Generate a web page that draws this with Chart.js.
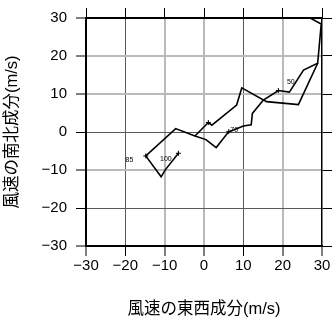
<!DOCTYPE html>
<html>
<head>
<meta charset="utf-8">
<script src="https://cdn.jsdelivr.net/npm/chart.js@4/dist/chart.umd.min.js"></script>
<style>
  html, body { margin: 0; padding: 0; background: #fff; }
  #wrap { width: 332px; height: 319px; }
</style>
</head>
<body>
<div id="wrap"><canvas id="hodo"></canvas></div>
<script>
// hodograph, surface (100) upward
const mainU = [-6.5, -9.8, -10.9, -14.8, -7.2, -2.3, 0.5, 3.1, 6.3, 7.5, 10.0, 12.0, 12.3, 15.1, 18.9, 21.7, 25.3, 28.9, 29.8, 24.5];
const mainV = [-5.6, -9.9, -11.8, -6.3, 0.9, -1.05, -2.0, -4.1, 0.1, 0.5, 1.6, 1.9, 4.9, 8.4, 10.9, 10.5, 16.3, 18.1, 28.4, 31.4];
const mainLevel = ["100", "", "", "85", "", "", "", "", "70", "", "", "", "", "", "50", "", "", "", "", ""];

// second trace
const subU = [-2.3, 1.1, 2.0, 8.3, 9.6, 15.9, 24.0, 28.9];
const subV = [-1.05, 2.5, 1.8, 7.1, 11.6, 8.0, 7.2, 18.1];
const subMark = [false, true, false, false, false, false, false, false];

const axisTicks = [-30, -20, -10, 0, 10, 20, 30];

const labelOffsets = { "100": [-12.6, 5.7], "85": [-16.4, 4.6], "70": [5.4, -1.7], "50": [12.5, -8.3] };

const FONT = "'Liberation Sans', 'Noto Sans CJK JP', sans-serif";

const darkX = [-20, 10];
const darkY = [0, -20];

function gridColor(dark) {
  return ctx => {
    const v = ctx.tick ? ctx.tick.value : 0;
    if (Math.abs(v) === 30) return 'rgba(0,0,0,0)';
    return dark.includes(v) ? '#5a5a5a' : '#bababa';
  };
}
function gridWidth(dark) {
  return ctx => {
    const v = ctx.tick ? ctx.tick.value : 0;
    return dark.includes(v) ? 1 : 2;
  };
}
const minus = v => String(v).replace('-', '\u2212');

const levelLabels = {
  id: 'levelLabels',
  afterDatasetsDraw(chart) {
    const meta = chart.getDatasetMeta(0);
    const c = chart.ctx;
    c.save();
    c.font = '7px ' + FONT;
    c.fillStyle = '#000';
    c.textAlign = 'center';
    c.textBaseline = 'middle';
    mainLevel.forEach((t, i) => {
      if (!t) return;
      const p = meta.data[i];
      const o = labelOffsets[t];
      c.fillText(t, p.x + o[0], p.y + o[1]);
    });
    c.restore();
  }
};

new Chart(document.getElementById('hodo'), {
  type: 'scatter',
  data: {
    datasets: [
      {
        data: mainU.map((u, i) => ({ x: u, y: mainV[i] })),
        showLine: true,
        borderColor: '#000',
        borderWidth: 1.6,
        pointStyle: 'cross',
        pointBorderColor: '#000',
        pointBorderWidth: 1,
        pointRadius: ctx => (mainLevel[ctx.dataIndex] ? 2.5 : 0),
      },
      {
        data: subU.map((u, i) => ({ x: u, y: subV[i] })),
        showLine: true,
        borderColor: '#000',
        borderWidth: 1.6,
        pointStyle: 'cross',
        pointBorderColor: '#000',
        pointBorderWidth: 1,
        pointRadius: ctx => (subMark[ctx.dataIndex] ? 2.5 : 0),
      },
    ],
  },
  options: {
    responsive: true,
    maintainAspectRatio: false,
    animation: false,
    layout: { padding: 0 },
    plugins: { legend: { display: false }, tooltip: { enabled: false } },
    scales: {
      x: {
        type: 'linear', position: 'bottom', min: -30, max: 30,
        afterBuildTicks: s => { s.ticks = axisTicks.map(v => ({ value: v })); },
        ticks: { color: '#000', padding: 1, font: { family: FONT, size: 15 }, callback: minus, maxRotation: 0 },
        grid: { color: gridColor(darkX), lineWidth: gridWidth(darkX), tickLength: 10, tickColor: '#000', tickWidth: 1 },
        border: { color: '#000', width: 2 },
        title: { display: true, text: '風速の東西成分(m/s)', color: '#000', font: { family: FONT, size: 16.5 }, padding: { top: 0, bottom: 0 } },
        afterFit: s => { s.height = 73; },
      },
      y: {
        type: 'linear', position: 'left', min: -30, max: 30,
        afterBuildTicks: s => { s.ticks = axisTicks.map(v => ({ value: v })); },
        ticks: { color: '#000', padding: 9, font: { family: FONT, size: 15 }, callback: minus },
        grid: { color: gridColor(darkY), lineWidth: gridWidth(darkY), tickLength: 10, tickColor: '#000', tickWidth: 1 },
        border: { color: '#000', width: 2 },
        title: { display: true, text: '風速の南北成分(m/s)', color: '#000', font: { family: FONT, size: 16.5 }, padding: { top: 3, bottom: 0 } },
        afterFit: s => { s.width = 86; },
      },
      x2: {
        type: 'linear', position: 'top', min: -30, max: 30,
        afterBuildTicks: s => { s.ticks = axisTicks.map(v => ({ value: v })); },
        ticks: { display: false },
        grid: { drawOnChartArea: false, tickLength: 10, color: '#000', tickColor: '#000', tickWidth: 1 },
        border: { color: '#000', width: 2 },
        afterFit: s => { s.height = 10; },
      },
      y2: {
        type: 'linear', position: 'right', min: -30, max: 30,
        afterBuildTicks: s => { s.ticks = axisTicks.map(v => ({ value: v })); },
        ticks: { display: false },
        grid: { drawOnChartArea: false, tickLength: 10, color: '#000', tickColor: '#000', tickWidth: 1 },
        border: { color: '#000', width: 1.5 },
        afterFit: s => { s.width = 10; },
      },
    },
  },
  plugins: [levelLabels],
});
</script>
</body>
</html>
